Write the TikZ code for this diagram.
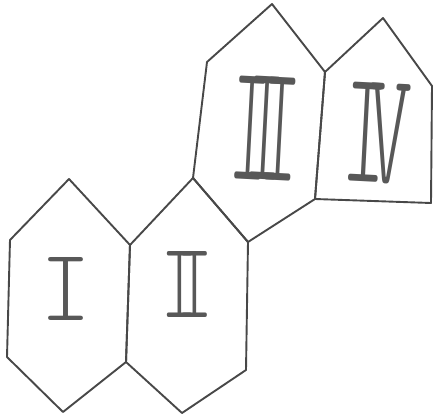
\documentclass[tikz,border=0pt]{standalone}
\usepackage{fontspec}
\usepackage{graphicx}
\newfontfamily\numfont{lmmonolt10-regular.otf}
\definecolor{pencil}{RGB}{72,72,72}
\definecolor{pencillight}{RGB}{88,88,88}
\begin{document}
\begin{tikzpicture}[x=1pt,y=-1pt,
  cell/.style={draw=pencil,line width=1.9pt,line join=round},
  numeral/.style={text=pencillight,inner sep=0pt}]
\useasboundingbox (0,0) rectangle (434,418);
% vertices
\coordinate (t1) at (69,179);
\coordinate (a) at (130,245);
\coordinate (b) at (126,362);
\coordinate (bot1) at (63,412);
\coordinate (ll) at (7,357);
\coordinate (ul) at (10,240);
\coordinate (t2) at (193,178);
\coordinate (ur2) at (248,242);
\coordinate (lr2) at (246,370);
\coordinate (bot2) at (182,413);
\coordinate (ul3) at (207,62);
\coordinate (t3) at (272,4);
\coordinate (j) at (325,72);
\coordinate (lr3) at (315,199);
\coordinate (t4) at (383,18);
\coordinate (r4a) at (432,86);
\coordinate (r4b) at (431,203);
% cells
\draw[cell] (t1) -- (a) -- (b) -- (bot1) -- (ll) -- (ul) -- cycle;
\draw[cell] (t2) -- (ur2) -- (lr2) -- (bot2) -- (b) -- (a) -- cycle;
\draw[cell] (t2) -- (ul3) -- (t3) -- (j) -- (lr3) -- (ur2) -- cycle;
\draw[cell] (j) -- (t4) -- (r4a) -- (r4b) -- (lr3) -- cycle;
% numerals
\node[numeral] (n1) at (66,288.5) {\resizebox{51pt}{63pt}{\numfont I}};
\node[numeral] (n2) at (187.5,284) {\resizebox{51pt}{66pt}{\numfont I\kern-3.2pt I}};
\node[numeral,rotate=-3] (n3) at (265.5,128.5) {\resizebox{68pt}{103pt}{\numfont I\kern-3.2pt I\kern-3.2pt I}};
\node[numeral,rotate=-3] (n4) at (377,133.5) {\resizebox{66pt}{99pt}{\numfont I\kern-2.5pt V}};
\end{tikzpicture}
\end{document}
